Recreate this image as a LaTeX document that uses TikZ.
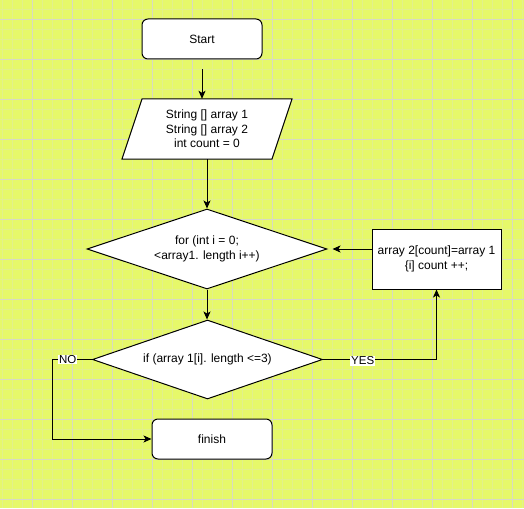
\documentclass[tikz,border=0pt]{standalone}
\usepackage{fontspec}
\setmainfont{Liberation Sans}
\usetikzlibrary{shapes.geometric,arrows.meta,calc}
\definecolor{bg}{RGB}{230,248,106}
\definecolor{gridmajor}{RGB}{216,218,196}
\definecolor{gridminor}{RGB}{226,240,140}
\tikzset{
  base/.style={draw=black, line width=1pt, fill=white, inner sep=0pt, align=center,
    font=\fontsize{12}{14.5}\selectfont},
  term/.style={base, rounded corners=6pt, minimum width=120pt, minimum height=40pt},
  proc/.style={base, minimum width=129pt, minimum height=60pt},
  dec/.style={base, diamond, aspect=3},
  iotext/.style={inner sep=0pt, align=center, minimum width=150pt, minimum height=60pt,
    font=\fontsize{12}{14.5}\selectfont},
  iobox/.style={draw=black, line width=1pt, fill=white},
  arr/.style={draw=black, line width=1pt, -{Stealth[length=8pt,width=7pt,inset=2pt]}},
  lbl/.style={fill=white, inner sep=0.8pt, font=\fontsize{11.5}{12}\selectfont},
  minorline/.style={draw=gridminor, line width=0.7pt},
  majorline/.style={draw=gridmajor, line width=1pt}
}
\begin{document}
\begin{tikzpicture}[x=1pt,y=-1pt]
\fill[bg] (0,0) rectangle (524,508);
\useasboundingbox (0,0) rectangle (524,508);
\foreach \x in {2.5,12.5,...,522.5} \draw[minorline] (\x,0) -- (\x,508);
\foreach \y in {-0.5,9.5,...,509.5} \draw[minorline] (0,\y) -- (524,\y);
\foreach \x in {32.5,72.5,...,512.5} \draw[majorline] (\x,0) -- (\x,508);
\foreach \y in {19.5,59.5,...,499.5} \draw[majorline] (0,\y) -- (524,\y);

\node[term] (start) at (202,39) {Start};
\filldraw[iobox] (142,99) -- (292,99) -- (272,159) -- (122,159) -- cycle;
\node[iotext] (par) at (207,129) {String [] array 1\\String [] array 2\\int count = 0};
\node[dec, minimum width=240pt, minimum height=80pt] (d1) at (207,249) {for (int i = 0;\\<array1. length i++)};
\node[dec, minimum width=230pt, minimum height=79pt] (d2) at (207.5,359.5) {if (array 1[i]. length <=3)};
\node[proc] (box) at (436.5,259) {array 2[count]=array 1\\\{i] count ++;};
\node[term] (finish) at (212,439) {finish};
\coordinate (nocorner) at (52.7,359.5);

\draw[arr, shorten <=10pt] (start.south) -- (start.south |- par.north);
\draw[arr] (par.south) -- (d1.north);
\draw[arr] (d1.south) -- (d1.south |- d2.north);
\draw[arr, shorten >=5pt] (box.west |- d1.east) -- (d1.east);
\draw[arr] (d2.east) -| node[lbl, pos=0.175, yshift=-1.5pt] {YES} (box.south);
\draw[arr] (d2.west) -- node[lbl, pos=0.62] {NO} (nocorner) |- (finish.west);
\end{tikzpicture}
\end{document}
